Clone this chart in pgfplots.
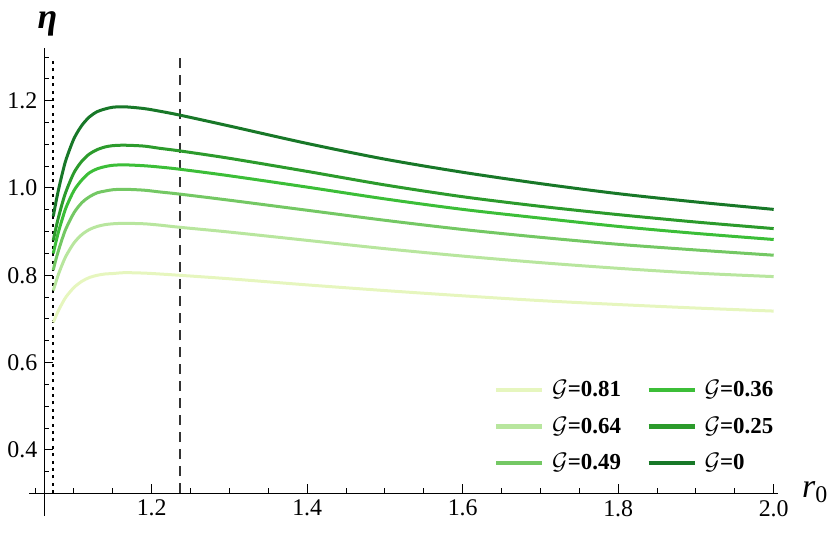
\documentclass[border=0pt]{standalone}
\usepackage{fontspec}
\setmainfont{Liberation Serif}
\usepackage{pgfplots}
\pgfplotsset{compat=1.18}
\definecolor{cA}{RGB}{230,246,190}
\definecolor{cB}{RGB}{184,230,158}
\definecolor{cC}{RGB}{116,200,100}
\definecolor{cD}{RGB}{60,190,56}
\definecolor{cE}{RGB}{44,155,44}
\definecolor{cF}{RGB}{24,120,40}
\pgfplotstableread{
x y
1.0734 0.935
1.076 0.960
1.08 0.995
1.085 1.033
1.09 1.066
1.10 1.113
1.11 1.143
1.12 1.163
1.13 1.175
1.14 1.181
1.15 1.185
1.165 1.186
1.19 1.182
1.21 1.176
1.236 1.167
1.3 1.142
1.4 1.102
1.5 1.066
1.6 1.036
1.7 1.010
1.8 0.987
1.9 0.968
2.0 0.951
}\tF
\pgfplotstableread{
x y
1.0734 0.880
1.076 0.902
1.08 0.932
1.085 0.965
1.09 0.993
1.10 1.035
1.11 1.061
1.12 1.078
1.13 1.088
1.14 1.094
1.15 1.097
1.165 1.098
1.19 1.096
1.21 1.091
1.236 1.085
1.3 1.068
1.4 1.038
1.5 1.007
1.6 0.980
1.7 0.958
1.8 0.939
1.9 0.922
2.0 0.907
}\tE
\pgfplotstableread{
x y
1.0734 0.850
1.076 0.870
1.08 0.899
1.085 0.929
1.09 0.956
1.10 0.994
1.11 1.018
1.12 1.035
1.13 1.044
1.14 1.049
1.15 1.052
1.165 1.053
1.19 1.051
1.21 1.048
1.236 1.043
1.3 1.028
1.4 1.002
1.5 0.975
1.6 0.951
1.7 0.931
1.8 0.912
1.9 0.896
2.0 0.882
}\tD
\pgfplotstableread{
x y
1.0734 0.812
1.076 0.831
1.08 0.856
1.085 0.884
1.09 0.908
1.10 0.943
1.11 0.966
1.12 0.980
1.13 0.989
1.14 0.993
1.15 0.996
1.165 0.997
1.19 0.995
1.21 0.991
1.236 0.986
1.3 0.972
1.4 0.949
1.5 0.926
1.6 0.905
1.7 0.887
1.8 0.871
1.9 0.858
2.0 0.846
}\tC
\pgfplotstableread{
x y
1.0734 0.765
1.076 0.780
1.08 0.802
1.085 0.825
1.09 0.845
1.10 0.874
1.11 0.893
1.12 0.905
1.13 0.912
1.14 0.916
1.15 0.918
1.165 0.919
1.19 0.918
1.21 0.915
1.236 0.910
1.3 0.899
1.4 0.880
1.5 0.861
1.6 0.844
1.7 0.829
1.8 0.816
1.9 0.805
2.0 0.797
}\tB
\pgfplotstableread{
x y
1.0734 0.692
1.076 0.703
1.08 0.719
1.085 0.736
1.09 0.751
1.10 0.772
1.11 0.786
1.12 0.795
1.13 0.800
1.14 0.803
1.15 0.804
1.165 0.806
1.19 0.805
1.21 0.803
1.236 0.800
1.3 0.792
1.4 0.778
1.5 0.765
1.6 0.753
1.7 0.742
1.8 0.733
1.9 0.725
2.0 0.718
}\tA
\begin{document}
\begin{tikzpicture}
\begin{axis}[
  x=388.75bp, y=218.25bp,
  xmin=1.062, xmax=2.0055, ymin=0.301, ymax=1.321,
  axis lines=left,
  axis line style={-, line width=0.5bp, black},
  clip=false,
  xtick={1.2,1.4,1.6,1.8,2.0},
  minor xtick={1.1,1.15,1.25,1.3,1.35,1.45,1.5,1.55,1.65,1.7,1.75,1.85,1.9,1.95},
  ytick={0.4,0.6,0.8,1.0,1.2},
  minor ytick={0.35,0.45,0.5,0.55,0.65,0.7,0.75,0.85,0.9,0.95,1.05,1.1,1.15,1.25,1.3},
  tick align=inside,
  major tick length=4.5bp, minor tick length=2.5bp,
  every tick/.style={black, line width=0.5bp},
  /pgf/number format/assume math mode=true,
  /pgf/number format/fixed, /pgf/number format/fixed zerofill, /pgf/number format/precision=1,
  tick label style={font=\fontsize{12}{13}\selectfont},
  legend columns=2,
  legend cell align=left,
  legend style={draw=none, fill=none, at={(axis cs:1.632,0.578)}, anchor=north west,
    font=\fontsize{11.5}{12}\selectfont\bfseries, row sep=4.5bp, column sep=0bp},
  legend image code/.code={\draw[#1, line width=2.2bp] (0bp,0bp) -- (23bp,0bp);},
]
\path (axis cs:1.00489,0.2028) rectangle (axis cs:2.07757,1.4307);
\draw[line width=0.5bp] (axis cs:1.0422,0.301) -- (axis cs:1.062,0.301);
\draw[line width=0.5bp] (axis cs:1.062,0.249) -- (axis cs:1.062,0.301);
\draw[line width=0.5bp] (axis cs:1.05,0.301) -- (axis cs:1.05,0.3125);
\draw[black, line width=0.8bp, dash pattern=on 1.5bp off 2.2bp] (axis cs:1.0727,0.301) -- (axis cs:1.0727,1.295);
\draw[black!80, line width=0.7bp, dash pattern=on 5bp off 3.5bp] (axis cs:1.2364,0.301) -- (axis cs:1.2364,1.298);
\addplot[cA, line width=1.5bp, smooth, forget plot] table {\tA};
\addplot[cB, line width=1.5bp, smooth, forget plot] table {\tB};
\addplot[cC, line width=1.5bp, smooth, forget plot] table {\tC};
\addplot[cD, line width=1.5bp, smooth, forget plot] table {\tD};
\addplot[cE, line width=1.5bp, smooth, forget plot] table {\tE};
\addplot[cF, line width=1.5bp, smooth, forget plot] table {\tF};
\addlegendimage{cA}\addlegendentry{\makebox[47bp][l]{\,$\mathcal{G}$=0.81}}
\addlegendimage{cD}\addlegendentry{\,$\mathcal{G}$=0.36}
\addlegendimage{cB}\addlegendentry{\makebox[47bp][l]{\,$\mathcal{G}$=0.64}}
\addlegendimage{cE}\addlegendentry{\,$\mathcal{G}$=0.25}
\addlegendimage{cC}\addlegendentry{\makebox[47bp][l]{\,$\mathcal{G}$=0.49}}
\addlegendimage{cF}\addlegendentry{\,$\mathcal{G}$=0}
\node[inner sep=0pt] at (axis cs:1.066,1.376) {\fontsize{18}{18}\selectfont\bfseries\itshape η};
\node[anchor=west, inner sep=0pt] at (axis cs:2.036,0.303) {\fontsize{17}{17}\selectfont\itshape r\raisebox{-0.3ex}{\fontsize{12}{12}\selectfont\upshape 0}};
\end{axis}
\end{tikzpicture}
\end{document}
